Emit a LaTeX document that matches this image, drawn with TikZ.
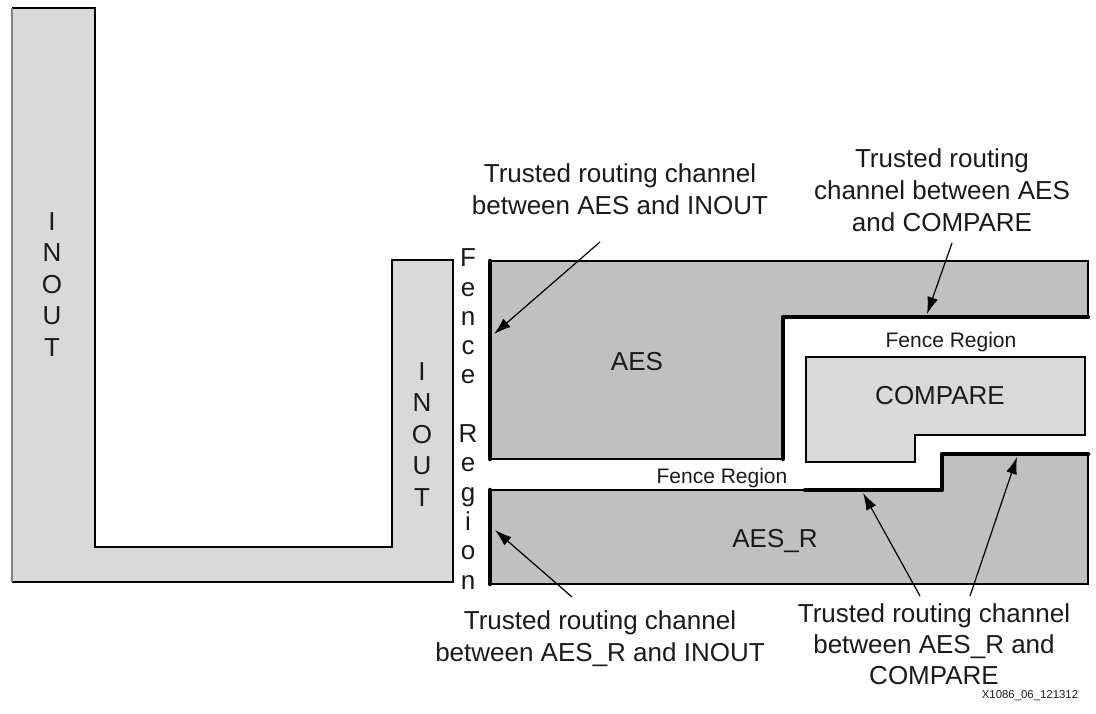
\documentclass[tikz,border=0pt]{standalone}
\usepackage{fontspec}
\setmainfont{Liberation Sans}
\usetikzlibrary{arrows.meta}
\definecolor{lightfill}{HTML}{D9D9D9}
\definecolor{darkfill}{HTML}{C0C0C0}
\definecolor{txt}{HTML}{1A1A1A}
\begin{document}
\begin{tikzpicture}[x=1pt,y=-1pt,
  lbl/.style={font=\fontsize{26}{32}\selectfont, text=txt, align=center, inner sep=0pt},
  stack/.style={font=\fontsize{26}{31.5}\selectfont, text=txt, align=center, inner sep=0pt},
  fence/.style={font=\fontsize{26}{29.3}\selectfont, text=txt, align=center, inner sep=0pt},
  sm/.style={font=\fontsize{21}{25}\selectfont, text=txt, inner sep=0pt},
  tiny/.style={font=\fontsize{11.4}{13}\selectfont, text=txt, inner sep=0pt},
  outl/.style={line width=1.5pt, line join=miter},
  chan/.style={line width=4.5pt, line cap=round, line join=round},
  ptr/.style={line width=1.2pt, -{Latex[length=17pt,width=11pt]}},
]
\useasboundingbox (0,0) rectangle (1096,713);

% INOUT L-shape
\fill[lightfill] (12,8) -- (95,8) -- (95,547) -- (392,547) -- (392,260) -- (453,260) -- (453,582) -- (12,582) -- cycle;
\draw[outl] (12,8) -- (95,8) -- (95,547) -- (392,547) -- (392,260) -- (453,260) -- (453,582) -- (12,582);
\draw[line width=1.5pt, gray] (12,8) -- (12,582);

% AES
\draw[outl, fill=darkfill] (490,261) -- (1088,261) -- (1088,317) -- (783,317) -- (783,459) -- (490,459) -- cycle;
\draw[chan] (490,261) -- (490,459);
\draw[chan] (1088,317) -- (783,317) -- (783,459);

% COMPARE
\draw[outl, fill=lightfill] (806,357) -- (1085,357) -- (1085,435) -- (915,435) -- (915,462) -- (806,462) -- cycle;

% AES_R
\draw[outl, fill=darkfill] (490,490) -- (942,490) -- (942,454) -- (1088,454) -- (1088,584) -- (490,584) -- cycle;
\draw[chan] (490,490) -- (490,584);
\draw[chan] (805,490) -- (942,490) -- (942,454) -- (1088,454);

% block texts
\node[lbl] (aes) at (637,362) {AES};
\node[lbl] (cmp) at (940,396) {COMPARE};
\node[lbl] (aesr) at (775,541) {AES\_R};
\node[stack, anchor=base] (inout1) at (52,356) {I\\N\\O\\U\\T};
\node[stack, anchor=base] (inout2) at (422,506) {I\\N\\O\\U\\T};
\node[fence, anchor=base] (fencev) at (468,589) {F\\e\\n\\c\\e\\[29.3pt]R\\e\\g\\i\\o\\n};
\node[sm, anchor=base] (fence1) at (951,347) {Fence Region};
\node[sm, anchor=base] (fence2) at (722,483) {Fence Region};

% labels
\node[lbl, anchor=base] (l1) at (620,214) {Trusted routing channel\\between AES and INOUT};
\node[lbl, anchor=base] (l2) at (942,231) {Trusted routing\\channel between AES\\and COMPARE};
\node[lbl, anchor=base] (l3) at (600,661) {Trusted routing channel\\between AES\_R and INOUT};
\node[lbl, anchor=base, font=\fontsize{26}{31}\selectfont] (l4) at (934,684) {Trusted routing channel\\between AES\_R and\\COMPARE};
\node[tiny, anchor=base] (fig) at (1030,698) {X1086\_06\_121312};

% arrow end points
\coordinate (a1s) at (600,242);
\coordinate (a1e) at (494,334);
\coordinate (a2s) at (952,243);
\coordinate (a2e) at (927,314);
\coordinate (a3s) at (572,597);
\coordinate (a3e) at (495,530);
\coordinate (a4s) at (920,596);
\coordinate (a4e) at (863,493);
\coordinate (a5s) at (970,596);
\coordinate (a5e) at (1017,457);

\draw[ptr] (a1s) -- (a1e);
\draw[ptr] (a2s) -- (a2e);
\draw[ptr] (a3s) -- (a3e);
\draw[ptr] (a4s) -- (a4e);
\draw[ptr] (a5s) -- (a5e);
\end{tikzpicture}
\end{document}
